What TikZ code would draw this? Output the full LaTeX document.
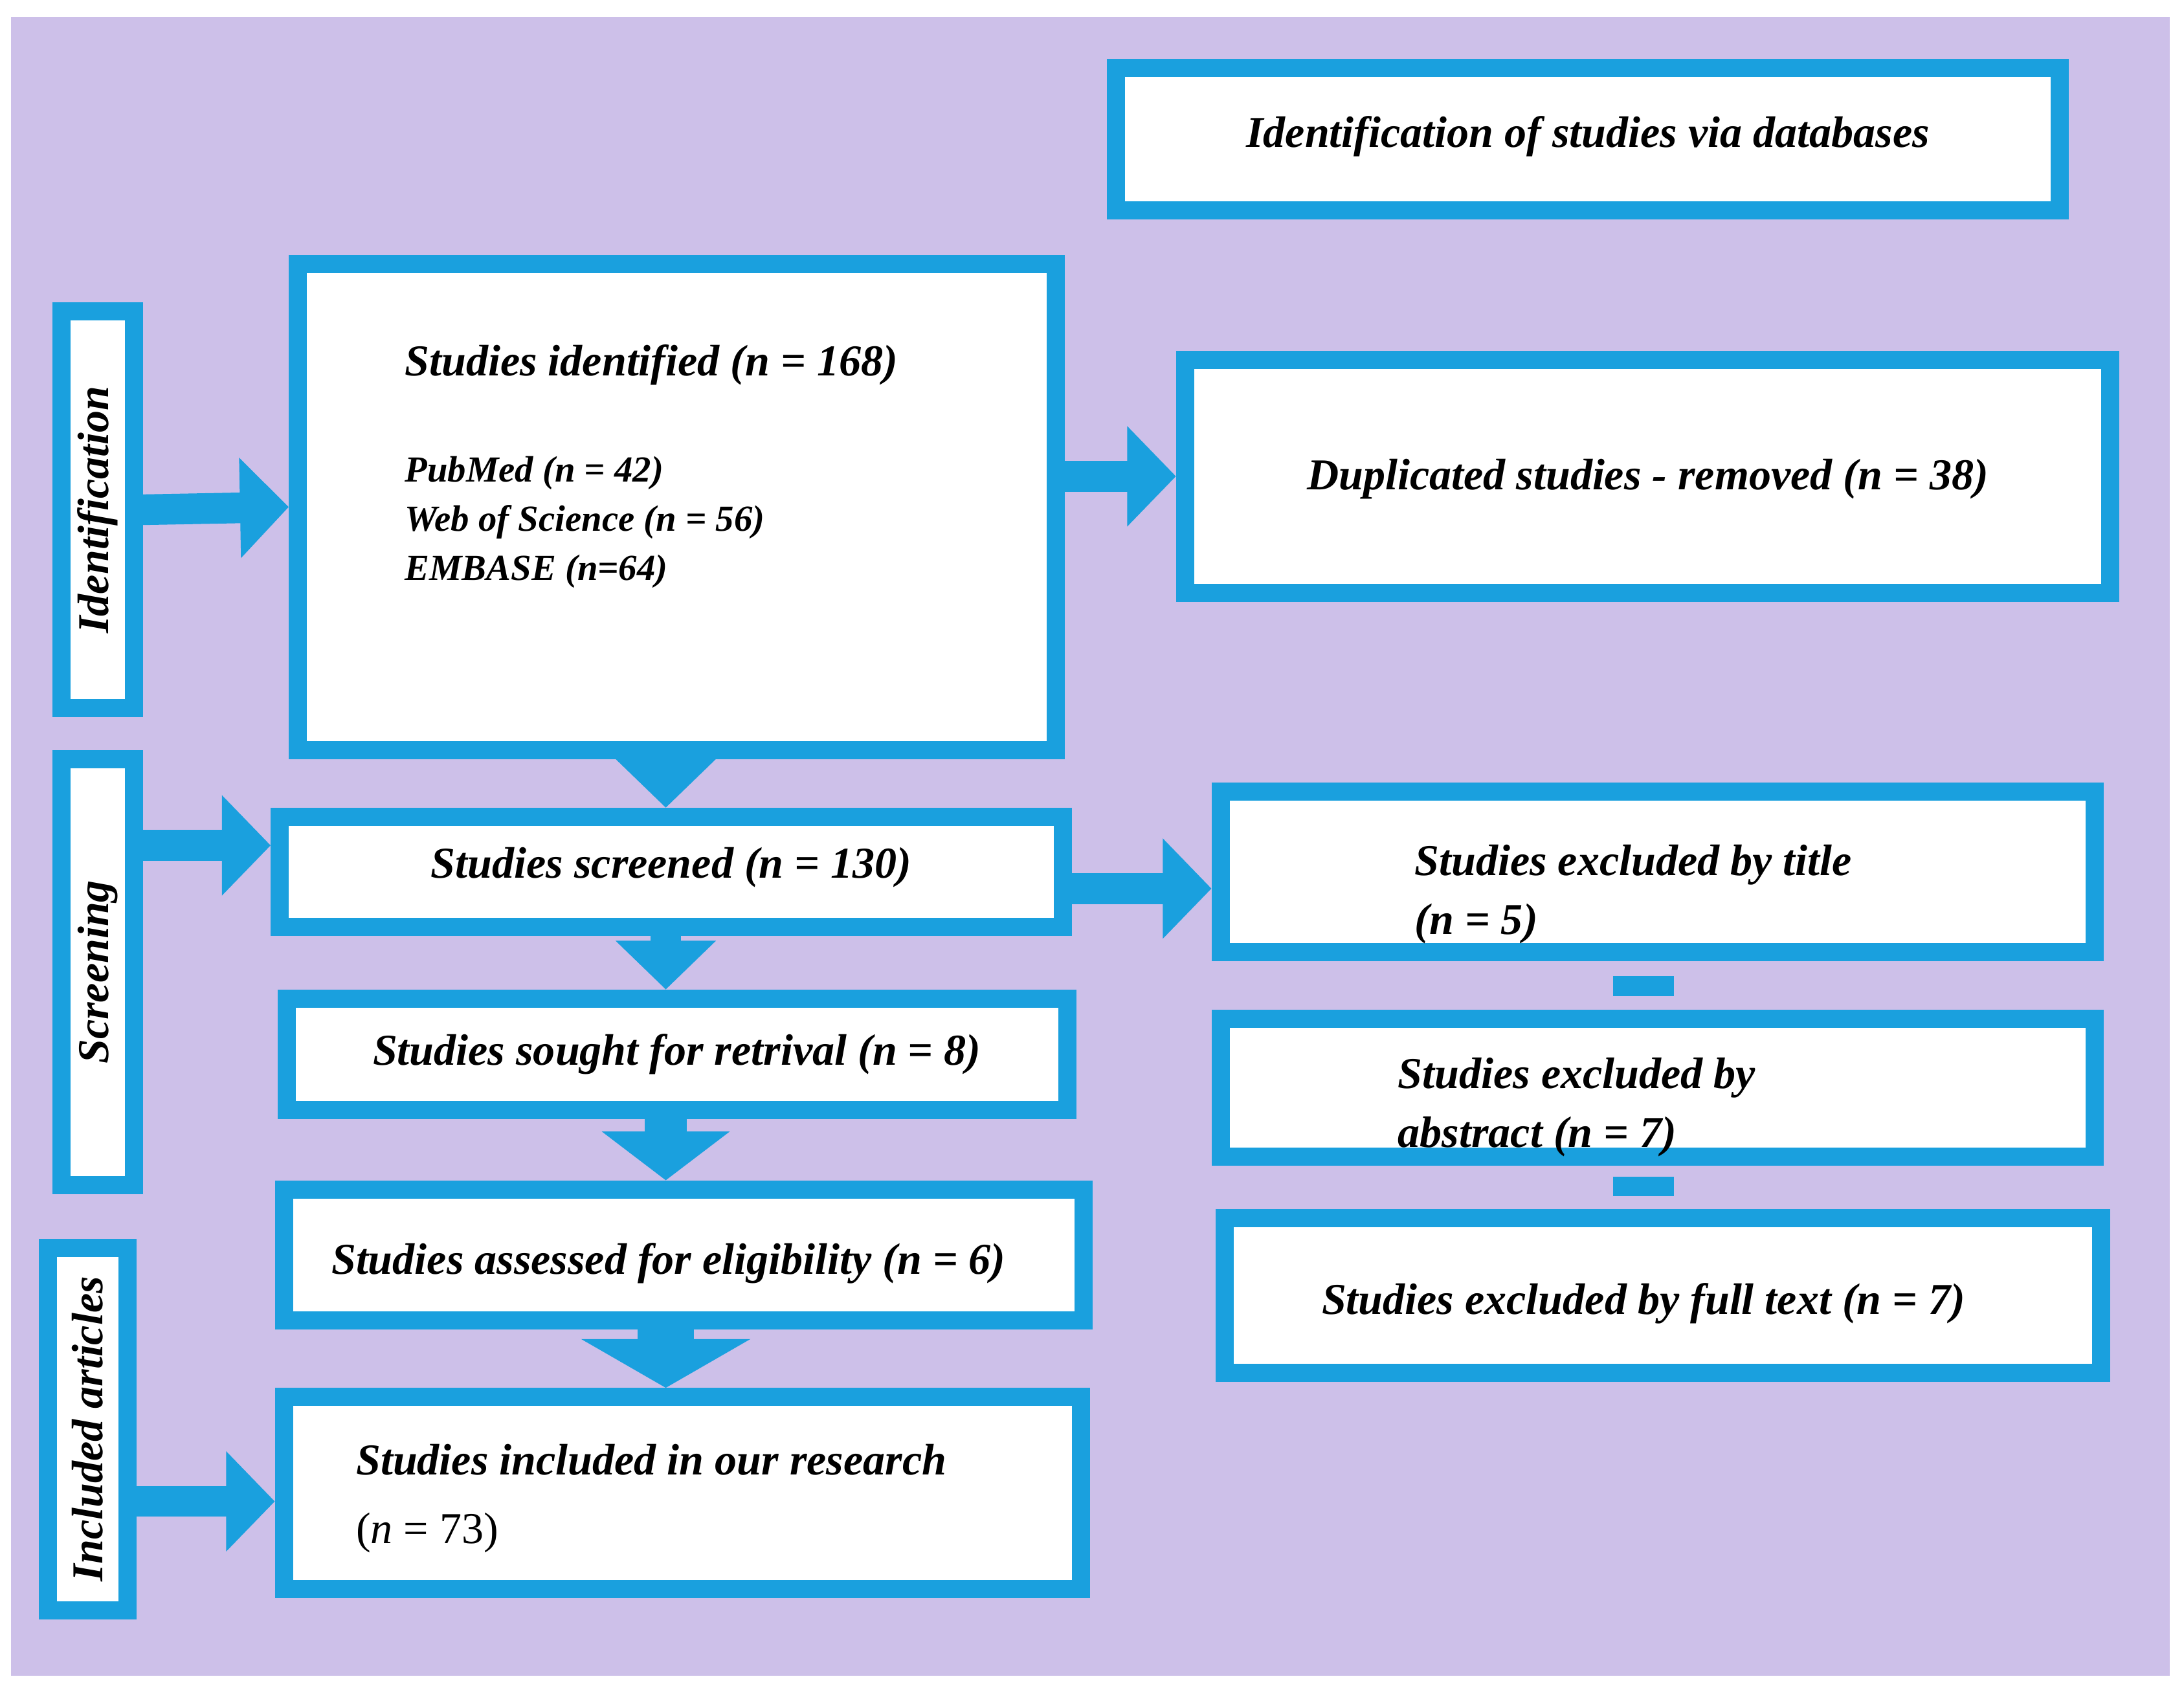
\documentclass[tikz,border=0pt]{standalone}
\usepackage{fontspec}
\setmainfont{Liberation Serif}
\usetikzlibrary{arrows.meta}
\definecolor{cy}{HTML}{1AA0DE}
\definecolor{bg}{HTML}{CDC0E9}
\newcommand{\nn}{\textit{n}}
\begin{document}
\begin{tikzpicture}[x=0.01cm,y=-0.01cm,
  box/.style={draw=cy,line width=1.3mm,fill=white,inner sep=0pt,rectangle},
  txt/.style={font=\fontsize{9}{12}\selectfont\bfseries\itshape,inner sep=0pt},
  small/.style={font=\fontsize{7.5}{10}\selectfont\bfseries\itshape,inner sep=0pt,align=left},
  arr/.style={draw=cy,line width=2.2mm,-{Triangle[length=3.5mm,width=7mm]}},
  conn/.style={draw=cy,line width=1.4mm}]
\useasboundingbox (0,0) rectangle (1568,1213);
\fill[bg] (8,12) rectangle (1558,1203);
\node[box,minimum width=6.77cm,minimum height=1.02cm] (title) at (1140,100) {};
\node[txt] (titlet) at (1140,98) {Identification of studies via databases};
\node[box,minimum width=0.52cm,minimum height=2.85cm] (idside) at (70,366) {};
\node[txt,rotate=90] (idsidet) at (70,366) {Identification};
\node[box,minimum width=5.44cm,minimum height=3.49cm] (ident) at (486,364) {};
\node[txt,anchor=west] (identt) at (290,262) {Studies identified (\nn{} = 168)};
\node[small,anchor=west] (identl) at (290,375) {PubMed (\nn{} = 42)\\Web of Science (\nn{} = 56)\\EMBASE (\nn{}=64)};
\node[box,minimum width=6.64cm,minimum height=1.67cm] (dup) at (1183,342) {};
\node[txt] (dupt) at (1183,344) {Duplicated studies - removed (\nn{} = 38)};
\node[box,minimum width=0.52cm,minimum height=3.06cm] (scrside) at (70,698) {};
\node[txt,rotate=90] (scrsidet) at (70,698) {Screening};
\node[box,minimum width=5.62cm,minimum height=0.79cm] (scr) at (482,626) {};
\node[txt] (scrt) at (482,623) {Studies screened (\nn{} = 130)};
\node[box,minimum width=6.27cm,minimum height=1.15cm] (ext) at (1190,626) {};
\node[txt,anchor=west,align=left] (extt) at (1015,642) {Studies excluded by title\\(\nn{} = 5)};
\node[box,minimum width=5.6cm,minimum height=0.8cm] (sought) at (486,757) {};
\node[txt] (soughtt) at (486,757) {Studies sought for retrival (\nn{} = 8)};
\node[box,minimum width=6.27cm,minimum height=0.99cm] (exa) at (1190,781) {};
\node[txt,anchor=west,align=left] (exat) at (1003,795) {Studies excluded by\\abstract (\nn{} = 7)};
\node[box,minimum width=5.74cm,minimum height=0.94cm] (ass) at (491,901) {};
\node[txt] (asst) at (480,907) {Studies assessed for eligibility (\nn{} = 6)};
\node[box,minimum width=6.29cm,minimum height=1.11cm] (exf) at (1194,930) {};
\node[txt] (exft) at (1180,936) {Studies excluded by full text (\nn{} = 7)};
\node[box,minimum width=0.57cm,minimum height=2.6cm] (incside) at (63,1026) {};
\node[txt,rotate=90] (incsidet) at (63,1026) {Included articles};
\node[box,minimum width=5.72cm,minimum height=1.38cm] (inc) at (490,1072) {};
\node[txt,anchor=west,align=left] (inct) at (255,1076) {Studies included in our research\\[2pt]{\mdseries\upshape(\nn{} = 73)}};
\draw[arr] (idside.east) -- (ident.west);
\draw[arr] (ident.east |- dup.west) -- (dup.west);
\draw[arr] (scrside.east |- 0,607) -- (scr.west |- 0,607);
\draw[arr] (scr.east |- 0,638) -- (ext.west |- 0,638);
\draw[arr] (incside.east |- 0,1078) -- (inc.west |- 0,1078);
\draw[arr] (ident.south -| 478,0) -- (scr.north -| 478,0);
\draw[arr] (scr.south -| 478,0) -- (sought.north -| 478,0);
\draw[arr,line width=3mm,-{Triangle[length=3.5mm,width=9mm]}] (sought.south -| 478,0) -- (ass.north -| 478,0);
\draw[arr,line width=4mm,-{Triangle[length=3.5mm,width=12mm]}] (ass.south -| 478,0) -- (inc.north -| 478,0);
\coordinate (c1a) at (1158,708); \coordinate (c1b) at (1202,708);
\coordinate (c2a) at (1158,852); \coordinate (c2b) at (1202,852);
\draw[conn] (c1a) -- (c1b);
\draw[conn] (c2a) -- (c2b);
\end{tikzpicture}
\end{document}
